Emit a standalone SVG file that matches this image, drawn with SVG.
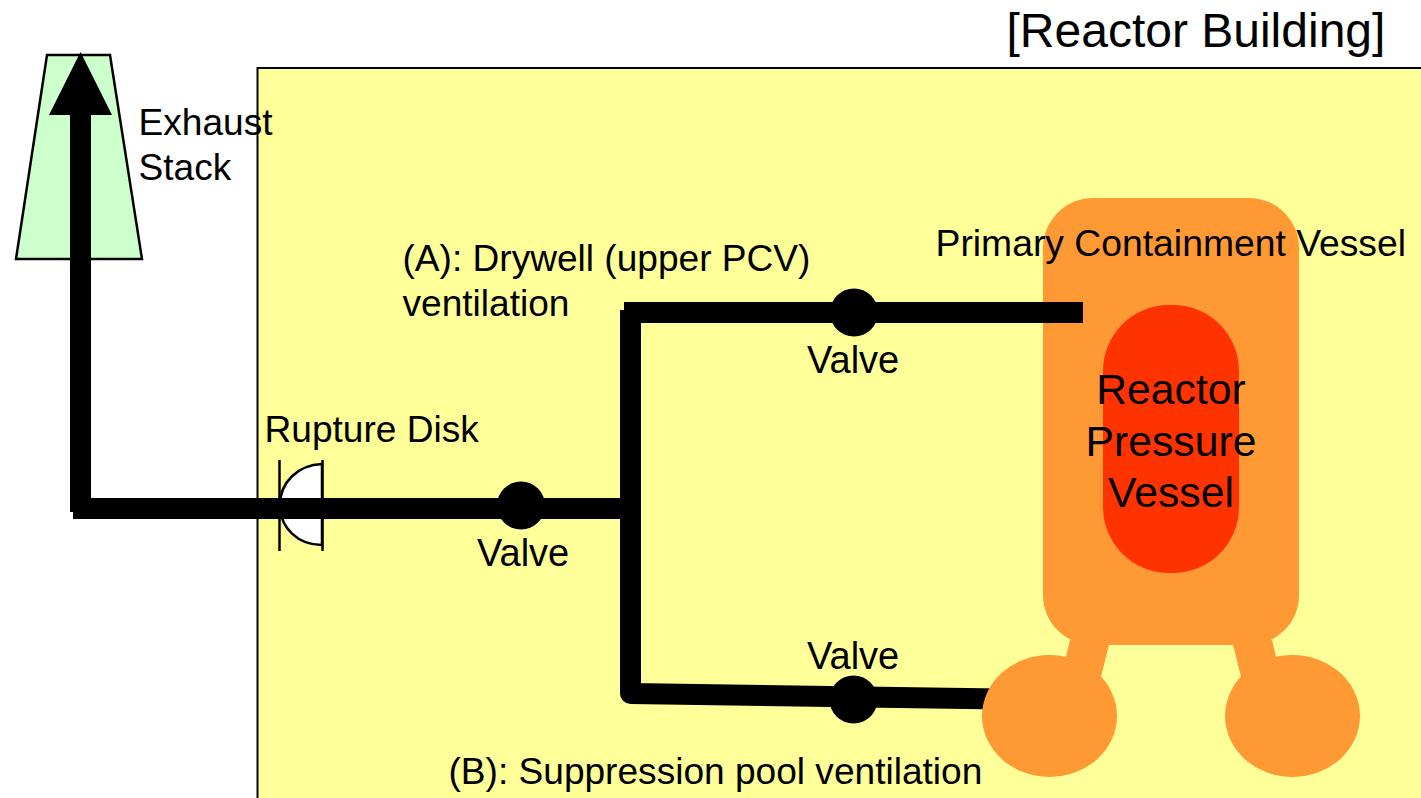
<svg xmlns="http://www.w3.org/2000/svg" width="1421" height="798" viewBox="0 0 1421 798">
<style>
text{font-family:"Liberation Sans",Arial,sans-serif;fill:#000;font-size:37.1px}
.o{fill:#FF9933}
.v{fill:#000}
.p{fill:none;stroke:#000;stroke-width:21;stroke-linejoin:round}
.l{stroke:#000;stroke-width:2.5;fill:none}
.t{font-size:38px}
.r{font-size:42.700px;text-anchor:middle}
</style>
<rect width="1421" height="798" fill="#fff"/>
<g id="building"><rect x="257.500" y="68" width="1200" height="800" fill="#FFFF99" stroke="#000" stroke-width="2"/></g>
<g id="stack"><polygon points="47,55 110,55 142,259 16,259" fill="#CCFFCC" stroke="#000" stroke-width="2.500"/></g>
<g id="disk">
<path d="M322,464 C298,465 280,482 280,505 C280,528 298,545 322,545 Z" fill="#fff" stroke="#000" stroke-width="2.500"/>
<path class="l" d="M279.500,460V551M322.500,460V551"/>
</g>
<g id="pcv">
<rect class="o" x="1043" y="198" width="256" height="447" rx="50" ry="50"/>
<polygon class="o" points="1070,640 1109,644.500 1100.700,678 1064,665"/>
<polygon class="o" points="1272,640 1233,644.500 1241.300,678 1278,665"/>
</g>
<g id="connectors">
<path class="p" d="M80.500,512V110"/>
<polygon points="80.500,52 112,115 49,115" fill="#000"/>
<path class="p" d="M73,508.500H630"/>
<path class="p" d="M624,312.500H1083"/>
<path class="p" d="M630.500,310V693.500L1000,699"/>
</g>
<g id="valve-main"><circle class="v" cx="521" cy="505.500" r="24"/></g>
<g id="valve-a"><circle class="v" cx="854" cy="312.500" r="24"/></g>
<g id="valve-b"><circle class="v" cx="853.500" cy="699.500" r="24"/></g>
<g id="pool-left"><ellipse class="o" cx="1049.500" cy="716" rx="67.500" ry="61"/></g>
<g id="pool-right"><ellipse class="o" cx="1292.500" cy="716" rx="67.500" ry="61"/></g>
<g id="rpv"><rect x="1103" y="305" width="136" height="268" rx="66" ry="66" fill="#FF3300"/></g>
<g id="labels">
<text x="1006.500" y="47" style="font-size:48px">[Reactor Building]</text>
<text x="138.500" y="135">Exhaust</text>
<text x="138.500" y="180">Stack</text>
<text x="402.500" y="271">(A): Drywell (upper PCV)</text>
<text x="402.500" y="316">ventilation</text>
<text x="935.500" y="256" style="font-size:37.3px">Primary Containment Vessel</text>
<text x="807" y="373" class="t">Valve</text>
<text x="264.500" y="442">Rupture Disk</text>
<text x="477" y="566" class="t">Valve</text>
<text x="807" y="669" class="t">Valve</text>
<text x="448.500" y="784">(B): Suppression pool ventilation</text>
<text x="1171" y="404" class="r">Reactor</text>
<text x="1171" y="456" class="r">Pressure</text>
<text x="1171" y="507" class="r">Vessel</text>
</g>
</svg>
